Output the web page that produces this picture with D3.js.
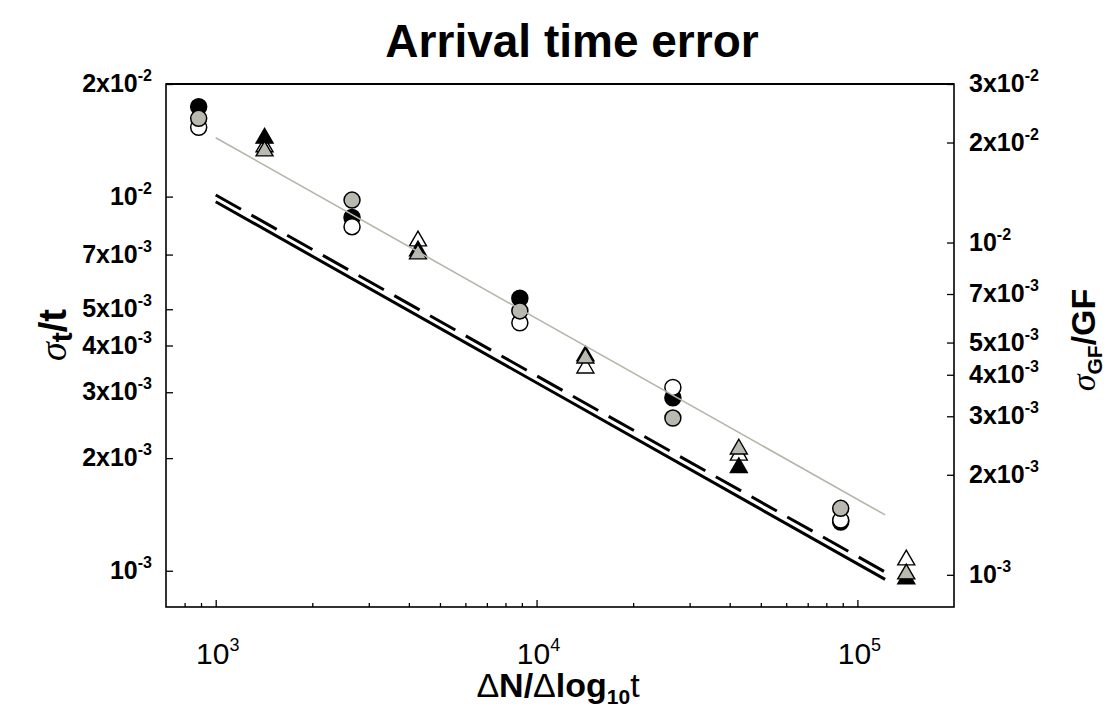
<!DOCTYPE html>
<html>
<head>
<meta charset="utf-8">
<script src="https://cdn.jsdelivr.net/npm/d3@7"></script>
<style>
  html, body { margin: 0; padding: 0; background: #fff; }
  svg { display: block; }
  text { font-family: "Liberation Sans", Arial, sans-serif; }
</style>
</head>
<body>
<svg id="chart" width="1111" height="715"></svg>
<script>
// ---------------- data ----------------
const circleX     = [885, 2660, 8870, 26600, 88700];
const circleBlack = [1.739e-2, 8.80e-3, 5.35e-3, 2.90e-3, 1.35e-3];
const circleOpen  = [1.532e-2, 8.31e-3, 4.60e-3, 3.09e-3, 1.366e-3];
const circleGray  = [1.619e-2, 9.79e-3, 4.95e-3, 2.56e-3, 1.468e-3];

const triX     = [1420, 4270, 14200, 42700, 142000];
const triOpen  = [1.94e-2, 1.011e-2, 4.19e-3, 2.29e-3, 1.108e-3];
const triBlack = [2.06e-2, 9.43e-3, 4.56e-3, 2.10e-3, 9.72e-4];
const triGray  = [1.886e-2, 9.24e-3, 4.49e-3, 2.39e-3, 1.006e-3];

const fitX      = [1000, 122000];
const fitGray   = [1.437e-2, 1.41e-3];
const fitSolid  = [9.69e-3, 9.48e-4];
const fitDashed = [1.01e-2, 9.92e-4];

const xMajorTicks = [1e3, 1e4, 1e5];
const xMajorExp   = ["3", "4", "5"];
const leftTicks   = [2e-2, 1e-2, 7e-3, 5e-3, 4e-3, 3e-3, 2e-3, 1e-3];
const leftMant    = ["2x10", "10", "7x10", "5x10", "4x10", "3x10", "2x10", "10"];
const leftExp     = ["-2", "-2", "-3", "-3", "-3", "-3", "-3", "-3"];
const rightTicks  = [3e-2, 2e-2, 1e-2, 7e-3, 5e-3, 4e-3, 3e-3, 2e-3, 1e-3];
const rightMant   = ["3x10", "2x10", "10", "7x10", "5x10", "4x10", "3x10", "2x10", "10"];
const rightExp    = ["-2", "-2", "-2", "-3", "-3", "-3", "-3", "-3", "-3"];

// ---------------- layout ----------------
const L = 166, R = 954, T = 84, B = 607;
const svg = d3.select("#chart");

const x  = d3.scaleLog().domain([700, 2e5]).range([L, R]);
const yL = d3.scaleLog().domain([8e-4, 2e-2]).range([B, T]);
const yR = d3.scaleLog().domain([8e-4, 3e-2]).range([B, T]);

const GRAY_FILL = "#b9b9b0";
const GRAY_LINE = "#b5b5aa";

// frame
svg.append("rect").attr("x", L).attr("y", T).attr("width", R - L).attr("height", B - T)
  .attr("fill", "none").attr("stroke", "#000").attr("stroke-width", 1.6);
svg.append("line").attr("x1", L).attr("x2", R).attr("y1", T).attr("y2", T)
  .attr("stroke", "#000").attr("stroke-width", 2.2);

// x axis ticks (inward)
const xMinor = [];
for (let d = 100; d <= 1e5; d *= 10) for (let k = 2; k <= 9; k++) {
  const v = d * k; if (v > 700 && v < 2e5 && !xMajorTicks.includes(v)) xMinor.push(v);
}
svg.append("g").attr("transform", `translate(0,${B})`)
  .call(d3.axisBottom(x).tickValues(xMinor).tickSize(-4).tickFormat(""))
  .call(g => g.select(".domain").remove())
  .selectAll("line").attr("stroke-width", 1.3);
const gxMaj = svg.append("g").attr("transform", `translate(0,${B})`)
  .call(d3.axisBottom(x).tickValues(xMajorTicks).tickSize(-7).tickFormat(""))
  .call(g => g.select(".domain").remove());
gxMaj.selectAll("line").attr("stroke-width", 1.3);

// x tick labels
const xl = svg.append("g");
xMajorTicks.forEach((v, i) => {
  const t = xl.append("text").attr("x", x(v) + 2).attr("y", 664).attr("text-anchor", "middle")
    .attr("font-size", 30);
  t.append("tspan").text("10");
  t.append("tspan").attr("dy", -13).attr("font-size", 18).text(xMajorExp[i]);
});

// left axis
const gl = svg.append("g").attr("transform", `translate(${L},0)`)
  .call(d3.axisLeft(yL).tickValues(leftTicks).tickSize(-7).tickFormat(""))
  .call(g => g.select(".domain").remove());
gl.selectAll("line").attr("stroke-width", 1.3);
leftTicks.forEach((v, i) => {
  const t = svg.append("text").attr("x", 152).attr("y", yL(v) + 8).attr("text-anchor", "end")
    .attr("font-size", 25).attr("font-weight", "bold");
  t.append("tspan").text(leftMant[i]);
  t.append("tspan").attr("dy", -11).attr("font-size", 16).text(leftExp[i]);
});

// right axis
const gr = svg.append("g").attr("transform", `translate(${R},0)`)
  .call(d3.axisRight(yR).tickValues(rightTicks).tickSize(-7).tickFormat(""))
  .call(g => g.select(".domain").remove());
gr.selectAll("line").attr("stroke-width", 1.3);
rightTicks.forEach((v, i) => {
  const t = svg.append("text").attr("x", 969).attr("y", yR(v) + 8).attr("text-anchor", "start")
    .attr("font-size", 25).attr("font-weight", "bold");
  t.append("tspan").text(rightMant[i]);
  t.append("tspan").attr("dy", -11).attr("font-size", 16).text(rightExp[i]);
});

// fitted lines
const line = (ys, sc) => d3.line().x((d, i) => x(fitX[i])).y(d => sc(d))(ys);
svg.append("path").attr("d", line(fitSolid, yL)).attr("fill", "none")
  .attr("stroke", "#000").attr("stroke-width", 3);
svg.append("path").attr("d", line(fitDashed, yL)).attr("fill", "none")
  .attr("stroke", "#000").attr("stroke-width", 3).attr("stroke-dasharray", "29,12");

// markers
const R_C = 8;
function circles(vals, fill) {
  svg.append("g").selectAll("circle").data(vals).join("circle")
    .attr("cx", (d, i) => x(circleX[i])).attr("cy", d => yL(d)).attr("r", R_C)
    .attr("fill", fill).attr("stroke", "#000").attr("stroke-width", 1.5);
}
const tri = d3.symbol().type(d3.symbolTriangle).size(125);
function triangles(vals, fill) {
  svg.append("g").selectAll("path").data(vals).join("path")
    .attr("transform", (d, i) => `translate(${x(triX[i])},${yR(d)})`)
    .attr("d", tri).attr("fill", fill).attr("stroke", "#000").attr("stroke-width", 1.4)
    .attr("stroke-linejoin", "miter");
}
circles(circleBlack, "#000");
circles(circleOpen, "#fff");
circles(circleGray, GRAY_FILL);
triangles(triOpen, "#fff");
triangles(triBlack, "#000");
triangles(triGray, GRAY_FILL);

svg.append("path").attr("d", line(fitGray, yL)).attr("fill", "none")
  .attr("stroke", GRAY_LINE).attr("stroke-width", 1.6);

// title
svg.append("text").attr("x", 572).attr("y", 57).attr("text-anchor", "middle")
  .attr("font-size", 46).attr("font-weight", "bold").text("Arrival time error");

// x label
const xt = svg.append("text").attr("x", 558).attr("y", 697).attr("text-anchor", "middle")
  .attr("font-size", 34).attr("font-weight", "bold");
xt.append("tspan").attr("font-weight", "normal").text("Δ");
xt.append("tspan").text("N/");
xt.append("tspan").attr("font-weight", "normal").text("Δ");
xt.append("tspan").text("log");
xt.append("tspan").attr("dy", 7).attr("font-size", 21).text("10");
xt.append("tspan").attr("dy", -7).attr("font-weight", "normal").text("t");

// left y label
const ylab = svg.append("text").attr("transform", "translate(66,335) rotate(-90)")
  .attr("text-anchor", "middle").attr("font-size", 38).attr("font-weight", "bold");
ylab.append("tspan").attr("font-family", "Liberation Serif, serif").attr("font-style", "italic")
  .attr("font-weight", "normal").text("σ");
ylab.append("tspan").attr("dy", 6).attr("font-size", 30).text("t");
ylab.append("tspan").attr("dy", -6).text("/t");

// right y label
const yrl = svg.append("text").attr("transform", "translate(1095,340) rotate(-90)")
  .attr("text-anchor", "middle").attr("font-size", 34).attr("font-weight", "bold");
yrl.append("tspan").attr("font-family", "Liberation Serif, serif").attr("font-style", "italic")
  .attr("font-weight", "normal").text("σ");
yrl.append("tspan").attr("dy", 7).attr("font-size", 21).text("GF");
yrl.append("tspan").attr("dy", -7).text("/GF");
</script>
</body>
</html>
